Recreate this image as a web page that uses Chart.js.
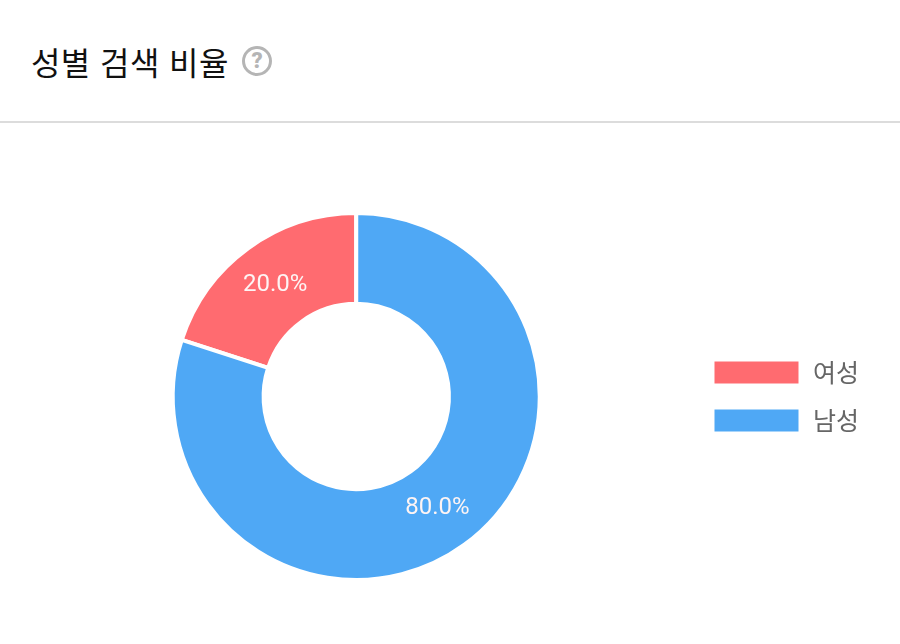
<!DOCTYPE html>
<html lang="ko">
<head>
<meta charset="utf-8">
<title>성별 검색 비율</title>
<script src="https://cdn.jsdelivr.net/npm/chart.js@4"></script>
<style>
  html, body { margin: 0; padding: 0; background: #fff; overflow: hidden; }
  body { width: 900px; height: 644px; position: relative; font-family: "Noto Sans CJK KR", sans-serif; }
  #title { position: absolute; left: 31px; top: 38px; font-size: 32px; line-height: 46px; color: #111; white-space: nowrap; letter-spacing: 0.4px; }
  #help { position: absolute; left: 242px; top: 46px; width: 24px; height: 24px; border: 3px solid #b5b5b5; border-radius: 50%;
          font: 900 22px/24px Roboto, sans-serif; color: #b5b5b5; text-align: center; }
  #rule { position: absolute; left: 0; top: 121px; width: 900px; height: 2px; background: #dcdcdc; }
  #wrap { position: absolute; left: 0; top: 123px; width: 869px; height: 521px; }
</style>
</head>
<body>
<div id="title">성별 검색 비율</div>
<div id="help">?</div>
<div id="rule"></div>
<div id="wrap"><canvas id="genderChart"></canvas></div>
<script>
const categories = ['여성', '남성'];
const shares = [20.0, 80.0];
const sliceColors = ['#FF6B70', '#4FA8F5'];

// percent text in the middle of each ring slice
const sliceLabels = {
  id: 'sliceLabels',
  afterDatasetsDraw(chart) {
    const ctx = chart.ctx;
    const meta = chart.getDatasetMeta(0);
    ctx.save();
    ctx.font = '24px Roboto';
    ctx.fillStyle = '#fdf4f4';
    ctx.textAlign = 'center';
    ctx.textBaseline = 'middle';
    meta.data.forEach((arc, i) => {
      const pos = arc.tooltipPosition();
      ctx.fillText(shares[i].toFixed(1) + '%', pos.x, pos.y);
    });
    ctx.restore();
  }
};

new Chart(document.getElementById('genderChart'), {
  type: 'doughnut',
  data: {
    labels: categories,
    datasets: [{
      data: shares,
      backgroundColor: sliceColors,
      borderColor: '#fff',
      borderWidth: 4
    }]
  },
  options: {
    responsive: true,
    maintainAspectRatio: false,
    animation: false,
    rotation: -72,
    cutout: '50.5%',
    layout: { padding: { left: 22, top: 88, bottom: 62 } },
    plugins: {
      tooltip: { enabled: false },
      legend: {
        position: 'right',
        labels: {
          boxWidth: 88,
          boxHeight: 26,
          padding: 22,
          color: '#666',
          font: { size: 25, family: '"Noto Sans CJK KR", sans-serif' }
        }
      }
    }
  },
  plugins: [sliceLabels]
});
</script>
</body>
</html>
